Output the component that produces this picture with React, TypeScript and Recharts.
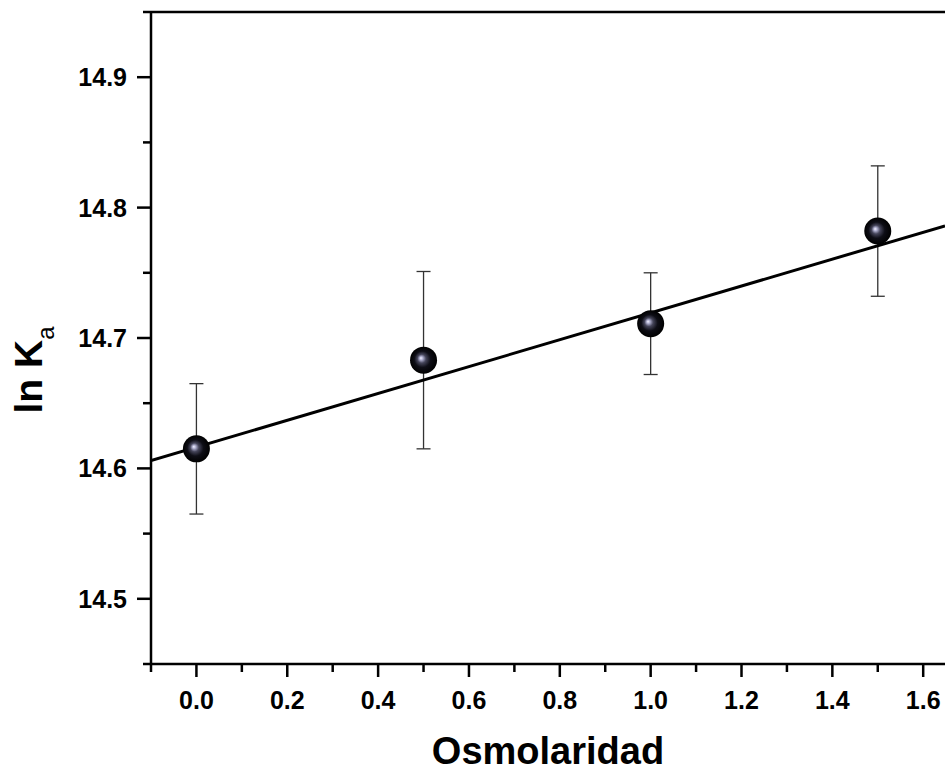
import * as React from "react";
import {
  ErrorBar,
  Label,
  ReferenceLine,
  Scatter,
  ScatterChart,
  XAxis,
  YAxis,
} from "recharts";

// measured binding constants vs osmolarity
const osmolarity = [0, 0.5, 1.0, 1.5];
const lnKa = [14.615, 14.683, 14.711, 14.782];
const lnKaError = [0.05, 0.068, 0.039, 0.05];

// linear fit, end points
const fitX = [-0.1, 1.648];
const fitY = [14.606, 14.786];

const xMajorTicks = [0, 0.2, 0.4, 0.6, 0.8, 1.0, 1.2, 1.4, 1.6];
const xMinorTicks = [-0.1, 0.1, 0.3, 0.5, 0.7, 0.9, 1.1, 1.3, 1.5];
const yMajorTicks = [14.5, 14.6, 14.7, 14.8, 14.9];
const yMinorTicks = [14.45, 14.55, 14.65, 14.75, 14.85, 14.95];

const X_DOMAIN: [number, number] = [-0.1, 1.648];
const Y_DOMAIN: [number, number] = [14.45, 14.95];

const FONT = "'Liberation Sans', Arial, Helvetica, sans-serif";

const points = osmolarity.map((x, i) => ({ x, y: lnKa[i], err: lnKaError[i] }));
const fitLine = fitX.map((x, i) => ({ x, y: fitY[i] }));

const isMajor = (list: number[], v: number) => list.some((t) => Math.abs(t - v) < 1e-6);

function XTick(props: any) {
  const { x, y, payload } = props;
  const major = isMajor(xMajorTicks, payload.value);
  return (
    <g>
      <line x1={x} y1={y} x2={x} y2={y + (major ? 13 : 8)} stroke="#000" strokeWidth={2.5} />
      {major && (
        <text x={x} y={y + 45} textAnchor="middle" fontFamily={FONT} fontWeight="bold" fontSize={25} fill="#000">
          {payload.value.toFixed(1)}
        </text>
      )}
    </g>
  );
}

function YTick(props: any) {
  const { x, y, payload } = props;
  const major = isMajor(yMajorTicks, payload.value);
  return (
    <g>
      <line x1={x - (major ? 14 : 8)} y1={y} x2={x} y2={y} stroke="#000" strokeWidth={2.5} />
      {major && (
        <text x={x - 24} y={y + 9} textAnchor="end" fontFamily={FONT} fontWeight="bold" fontSize={25} fill="#000">
          {payload.value.toFixed(1)}
        </text>
      )}
    </g>
  );
}

// glossy black ball marker
function Sphere(props: any) {
  const { cx, cy, index } = props;
  const id = `sphere-grad-${index}`;
  return (
    <g>
      <defs>
        <radialGradient id={id} cx="50%" cy="50%" r="50%" fx="40%" fy="42%">
          <stop offset="0%" stopColor="#f4f4ff" />
          <stop offset="12%" stopColor="#b4b4d4" />
          <stop offset="32%" stopColor="#45455a" />
          <stop offset="60%" stopColor="#0e0e16" />
          <stop offset="100%" stopColor="#000" />
        </radialGradient>
      </defs>
      <circle cx={cx} cy={cy} r={13.5} fill={`url(#${id})`} />
    </g>
  );
}

const NoShape = () => <g />;

export default function App() {
  return (
    <div style={{ position: "absolute", left: 0, top: 0, width: 945, height: 774, background: "#fff", overflow: "hidden" }}>
      <ScatterChart width={945} height={774} margin={{ top: 12, right: 0, bottom: 0, left: 0 }}>
        <XAxis
          type="number"
          dataKey="x"
          domain={X_DOMAIN}
          ticks={[...xMinorTicks, ...xMajorTicks].sort((a, b) => a - b)}
          interval={0}
          allowDataOverflow
          height={110}
          tickSize={0}
          tickMargin={0}
          tick={<XTick />}
          axisLine={{ stroke: "#000", strokeWidth: 2.5 }}
        >
          <Label
            content={() => (
              <text x={548} y={764} textAnchor="middle" fontFamily={FONT} fontWeight="bold" fontSize={38} fill="#000">
                Osmolaridad
              </text>
            )}
          />
        </XAxis>
        <YAxis
          type="number"
          dataKey="y"
          domain={Y_DOMAIN}
          ticks={[...yMinorTicks, ...yMajorTicks].sort((a, b) => a - b)}
          interval={0}
          allowDataOverflow
          width={151}
          tickSize={0}
          tickMargin={0}
          tick={<YTick />}
          axisLine={{ stroke: "#000", strokeWidth: 2.5 }}
        >
          <Label
            content={() => (
              <text
                x={42}
                y={370}
                transform="rotate(-90, 42, 370)"
                textAnchor="middle"
                fontFamily={FONT}
                fontWeight="bold"
                fontSize={39}
                fill="#000"
              >
                ln K
                <tspan fontSize={24} fontWeight="normal" dy={12}>
                  a
                </tspan>
              </text>
            )}
          />
        </YAxis>
        <ReferenceLine y={14.95} stroke="#000" strokeWidth={2.5} ifOverflow="visible" />
        <Scatter
          data={fitLine}
          line={{ stroke: "#000", strokeWidth: 3 }}
          lineType="joint"
          shape={NoShape}
          legendType="none"
          isAnimationActive={false}
        />
        <Scatter data={points} shape={Sphere} isAnimationActive={false}>
          <ErrorBar dataKey="err" direction="y" width={7} stroke="#333" strokeWidth={1.3} />
        </Scatter>
      </ScatterChart>
    </div>
  );
}
